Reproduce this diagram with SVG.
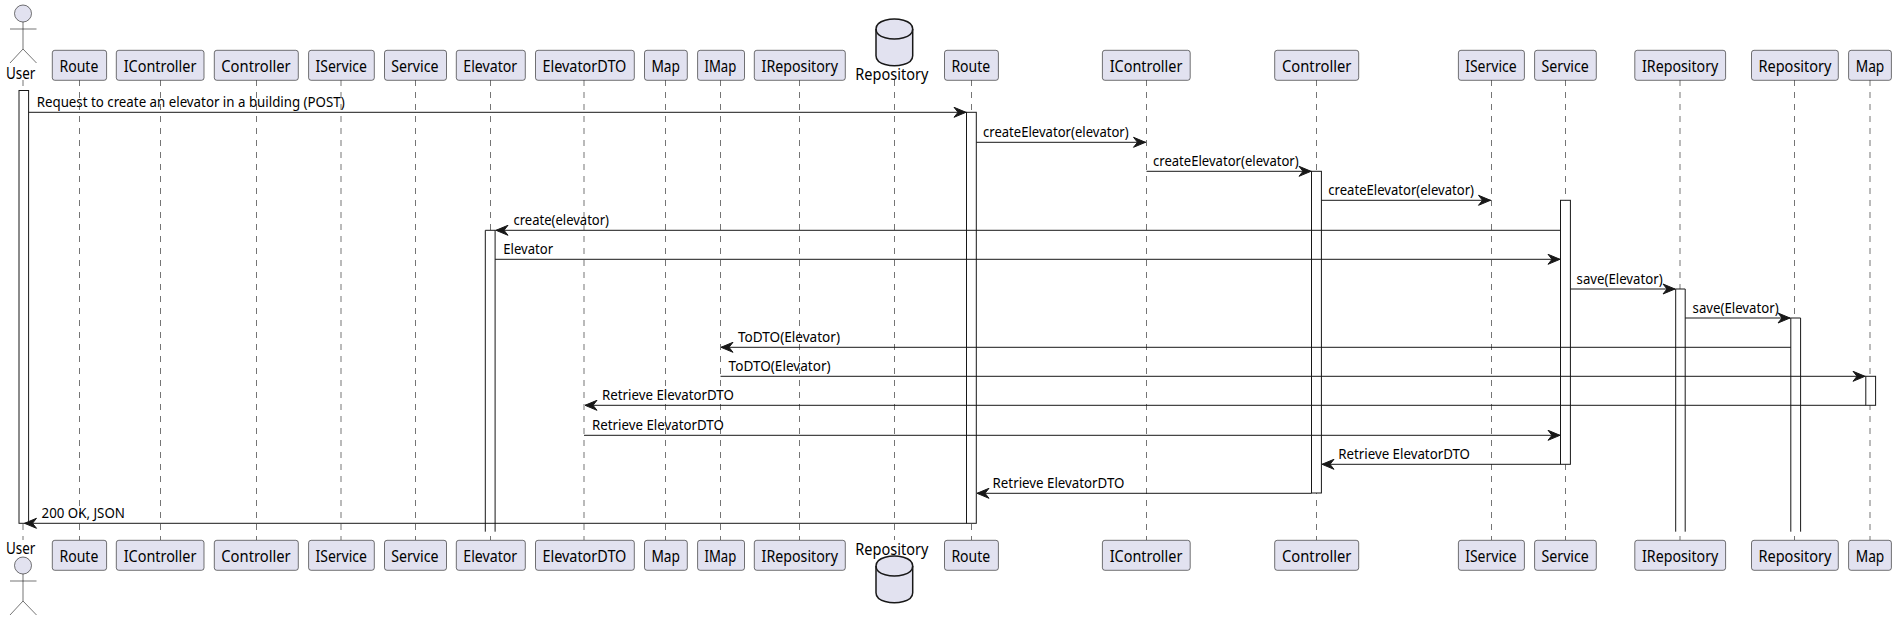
<svg xmlns="http://www.w3.org/2000/svg" width="1896" height="621" viewBox="0 0 1896 621">
<style>
text{font-family:"Noto Sans","Liberation Sans",sans-serif;font-size:14.5px;fill:#000}
.n{font-size:15.4px}
.p{fill:#E2E2F0;stroke:#181818;stroke-width:.6}
.a{fill:#E2E2F0;stroke:#181818;stroke-width:.6}
.al{fill:none;stroke:#181818;stroke-width:.6}
.db{fill:#E2E2F0;stroke:#181818;stroke-width:1.5}
.ll{stroke:#181818;stroke-width:.6;stroke-dasharray:6 6;fill:none}
.b{fill:#fff;stroke:#181818;stroke-width:1}
.m{stroke:#181818;stroke-width:1;fill:none}
.h{fill:#181818;stroke:#181818;stroke-width:1}
</style>
<defs>
<g id="actor"><circle cx="23" cy="13.5" r="8.5" class="a"/><path class="al" d="M23 22V49M10 29H36.5M10 63L23 49L36.5 63"/></g>
<path id="ar" class="h" d="M0 0L-12 -5L-8 0L-12 5Z"/>
<path id="al" class="h" d="M0 0L12 -5L8 0L12 5Z"/>
</defs>
<g id="lifelines">
<path class="ll" d="M23 80V540M79.5 80V540M160.5 80V540M256.5 80V540M341 80V540M415.5 80V540M490.5 80V540M584 80V540M665.5 80V540M720.5 80V540M799.5 80V540M894.5 80V540M971.5 80V540M1146.5 80V540M1316.5 80V540M1491.5 80V540M1565.5 80V540M1680 80V540M1794.5 80V540M1870 80V540"/>
</g>
<g id="activations">
<rect class="b" x="19" y="90.5" width="9.6" height="432.8"/>
<rect class="b" x="966.5" y="112.3" width="9.8" height="411"/>
<rect class="b" x="1311.5" y="171.3" width="9.9" height="321.7"/>
<rect class="b" x="1560.5" y="200.3" width="9.9" height="264"/>
<path class="b" d="M485.3 531.7V230.3H495.1V531.7"/>
<path class="b" d="M1675.7 531.7V289H1685.2V531.7"/>
<path class="b" d="M1790.8 531.7V318H1800.6V531.7"/>
<rect class="b" x="1865.8" y="376.3" width="9.8" height="29"/>
</g>
<g id="connectors">
<path class="m" d="M28.6 112.3H966.5"/><use href="#ar" x="966" y="112.3"/>
<path class="m" d="M976.3 142.3H1146"/><use href="#ar" x="1145.5" y="142.3"/>
<path class="m" d="M1146.5 171.3H1311.5"/><use href="#ar" x="1311" y="171.3"/>
<path class="m" d="M1321.4 200.3H1491"/><use href="#ar" x="1490.5" y="200.3"/>
<path class="m" d="M495.1 230.3H1560.5"/><use href="#al" x="496" y="230.3"/>
<path class="m" d="M495.1 259.3H1560.5"/><use href="#ar" x="1560" y="259.3"/>
<path class="m" d="M1570.4 289H1675.7"/><use href="#ar" x="1675" y="289"/>
<path class="m" d="M1685.2 318H1790.8"/><use href="#ar" x="1790" y="318"/>
<path class="m" d="M721 347.3H1790.8"/><use href="#al" x="721" y="347.3"/>
<path class="m" d="M720.5 376.3H1865.8"/><use href="#ar" x="1865" y="376.3"/>
<path class="m" d="M585 405.3H1865.8"/><use href="#al" x="585" y="405.3"/>
<path class="m" d="M584 435.3H1560.5"/><use href="#ar" x="1560" y="435.3"/>
<path class="m" d="M1322 464.3H1560.5"/><use href="#al" x="1322" y="464.3"/>
<path class="m" d="M977 493.3H1311.5"/><use href="#al" x="977" y="493.3"/>
<path class="m" d="M29 523.3H966.5"/><use href="#al" x="24.5" y="523.3"/>
</g>
<g id="labels">
<text x="36.7" y="107" textLength="308" lengthAdjust="spacingAndGlyphs">Request to create an elevator in a building (POST)</text>
<text x="983" y="137" textLength="145.7" lengthAdjust="spacingAndGlyphs">createElevator(elevator)</text>
<text x="1153" y="166" textLength="145.7" lengthAdjust="spacingAndGlyphs">createElevator(elevator)</text>
<text x="1328.3" y="195" textLength="145.7" lengthAdjust="spacingAndGlyphs">createElevator(elevator)</text>
<text x="513.5" y="225" textLength="95.5" lengthAdjust="spacingAndGlyphs">create(elevator)</text>
<text x="503.3" y="254" textLength="49.8" lengthAdjust="spacingAndGlyphs">Elevator</text>
<text x="1576.6" y="284" textLength="86" lengthAdjust="spacingAndGlyphs">save(Elevator)</text>
<text x="1692.6" y="313" textLength="86" lengthAdjust="spacingAndGlyphs">save(Elevator)</text>
<text x="738" y="342" textLength="102" lengthAdjust="spacingAndGlyphs">ToDTO(Elevator)</text>
<text x="728.6" y="371" textLength="102" lengthAdjust="spacingAndGlyphs">ToDTO(Elevator)</text>
<text x="602" y="400" textLength="131.8" lengthAdjust="spacingAndGlyphs">Retrieve ElevatorDTO</text>
<text x="592" y="430" textLength="131.8" lengthAdjust="spacingAndGlyphs">Retrieve ElevatorDTO</text>
<text x="1338.2" y="459" textLength="131.8" lengthAdjust="spacingAndGlyphs">Retrieve ElevatorDTO</text>
<text x="992.6" y="488" textLength="131.8" lengthAdjust="spacingAndGlyphs">Retrieve ElevatorDTO</text>
<text x="41.6" y="518" textLength="83.3" lengthAdjust="spacingAndGlyphs">200 OK, JSON</text>
</g>
<g id="user-top"><use href="#actor"/><text class="n" x="6" y="78.5" textLength="29.4" lengthAdjust="spacingAndGlyphs">User</text></g>
<g id="user-bottom"><use href="#actor" y="552"/><text class="n" x="6" y="554" textLength="29.4" lengthAdjust="spacingAndGlyphs">User</text></g>
<g id="repo-db-top"><path class="db" d="M876 29C876 19 894.3 19 894.3 19C894.3 19 912.7 19 912.7 29V55.7C912.7 65.7 894.3 65.7 894.3 65.7C894.3 65.7 876 65.7 876 55.7Z"/><path class="db" style="fill:none" d="M876 29C876 39 894.3 39 894.3 39C894.3 39 912.7 39 912.7 29"/><text class="n" x="855.3" y="79.5" textLength="73" lengthAdjust="spacingAndGlyphs">Repository</text></g>
<g id="repo-db-bottom"><text class="n" x="855.3" y="554.5" textLength="73" lengthAdjust="spacingAndGlyphs">Repository</text><path class="db" d="M876 566C876 556 894.3 556 894.3 556C894.3 556 912.7 556 912.7 566V592.7C912.7 602.7 894.3 602.7 894.3 602.7C894.3 602.7 876 602.7 876 592.7Z"/><path class="db" style="fill:none" d="M876 566C876 576 894.3 576 894.3 576C894.3 576 912.7 576 912.7 566"/></g>
<g id="p-route1"><rect class="p" x="52.3" y="50.3" width="54.3" height="30" rx="2.5"/><rect class="p" x="52.3" y="540.3" width="54.3" height="30" rx="2.5"/><text class="n" x="59.5" y="71.5" textLength="38.8" lengthAdjust="spacingAndGlyphs">Route</text><text class="n" x="59.5" y="561.5" textLength="38.8" lengthAdjust="spacingAndGlyphs">Route</text></g>
<g id="p-icontroller1"><rect class="p" x="116.3" y="50.3" width="87.7" height="30" rx="2.5"/><rect class="p" x="116.3" y="540.3" width="87.7" height="30" rx="2.5"/><text class="n" x="123.7" y="71.5" textLength="72.7" lengthAdjust="spacingAndGlyphs">IController</text><text class="n" x="123.7" y="561.5" textLength="72.7" lengthAdjust="spacingAndGlyphs">IController</text></g>
<g id="p-controller1"><rect class="p" x="214.3" y="50.3" width="84" height="30" rx="2.5"/><rect class="p" x="214.3" y="540.3" width="84" height="30" rx="2.5"/><text class="n" x="221.3" y="71.5" textLength="69.4" lengthAdjust="spacingAndGlyphs">Controller</text><text class="n" x="221.3" y="561.5" textLength="69.4" lengthAdjust="spacingAndGlyphs">Controller</text></g>
<g id="p-iservice1"><rect class="p" x="308.6" y="50.3" width="65.7" height="30" rx="2.5"/><rect class="p" x="308.6" y="540.3" width="65.7" height="30" rx="2.5"/><text class="n" x="315.5" y="71.5" textLength="51.4" lengthAdjust="spacingAndGlyphs">IService</text><text class="n" x="315.5" y="561.5" textLength="51.4" lengthAdjust="spacingAndGlyphs">IService</text></g>
<g id="p-service1"><rect class="p" x="384.5" y="50.3" width="62" height="30" rx="2.5"/><rect class="p" x="384.5" y="540.3" width="62" height="30" rx="2.5"/><text class="n" x="391.2" y="71.5" textLength="47.3" lengthAdjust="spacingAndGlyphs">Service</text><text class="n" x="391.2" y="561.5" textLength="47.3" lengthAdjust="spacingAndGlyphs">Service</text></g>
<g id="p-elevator"><rect class="p" x="456.3" y="50.3" width="69" height="30" rx="2.5"/><rect class="p" x="456.3" y="540.3" width="69" height="30" rx="2.5"/><text class="n" x="463.3" y="71.5" textLength="53.9" lengthAdjust="spacingAndGlyphs">Elevator</text><text class="n" x="463.3" y="561.5" textLength="53.9" lengthAdjust="spacingAndGlyphs">Elevator</text></g>
<g id="p-elevatordto"><rect class="p" x="535.5" y="50.3" width="98.8" height="30" rx="2.5"/><rect class="p" x="535.5" y="540.3" width="98.8" height="30" rx="2.5"/><text class="n" x="542.4" y="71.5" textLength="84" lengthAdjust="spacingAndGlyphs">ElevatorDTO</text><text class="n" x="542.4" y="561.5" textLength="84" lengthAdjust="spacingAndGlyphs">ElevatorDTO</text></g>
<g id="p-map1"><rect class="p" x="644.5" y="50.3" width="42.8" height="30" rx="2.5"/><rect class="p" x="644.5" y="540.3" width="42.8" height="30" rx="2.5"/><text class="n" x="651.4" y="71.5" textLength="28.6" lengthAdjust="spacingAndGlyphs">Map</text><text class="n" x="651.4" y="561.5" textLength="28.6" lengthAdjust="spacingAndGlyphs">Map</text></g>
<g id="p-imap"><rect class="p" x="697.6" y="50.3" width="46.9" height="30" rx="2.5"/><rect class="p" x="697.6" y="540.3" width="46.9" height="30" rx="2.5"/><text class="n" x="704.5" y="71.5" textLength="31.8" lengthAdjust="spacingAndGlyphs">IMap</text><text class="n" x="704.5" y="561.5" textLength="31.8" lengthAdjust="spacingAndGlyphs">IMap</text></g>
<g id="p-irepository1"><rect class="p" x="754.3" y="50.3" width="91" height="30" rx="2.5"/><rect class="p" x="754.3" y="540.3" width="91" height="30" rx="2.5"/><text class="n" x="761.6" y="71.5" textLength="76.3" lengthAdjust="spacingAndGlyphs">IRepository</text><text class="n" x="761.6" y="561.5" textLength="76.3" lengthAdjust="spacingAndGlyphs">IRepository</text></g>
<g id="p-route2"><rect class="p" x="944.5" y="50.3" width="53.9" height="30" rx="2.5"/><rect class="p" x="944.5" y="540.3" width="53.9" height="30" rx="2.5"/><text class="n" x="951.4" y="71.5" textLength="38.8" lengthAdjust="spacingAndGlyphs">Route</text><text class="n" x="951.4" y="561.5" textLength="38.8" lengthAdjust="spacingAndGlyphs">Route</text></g>
<g id="p-icontroller2"><rect class="p" x="1102.4" y="50.3" width="87.8" height="30" rx="2.5"/><rect class="p" x="1102.4" y="540.3" width="87.8" height="30" rx="2.5"/><text class="n" x="1109.7" y="71.5" textLength="72.7" lengthAdjust="spacingAndGlyphs">IController</text><text class="n" x="1109.7" y="561.5" textLength="72.7" lengthAdjust="spacingAndGlyphs">IController</text></g>
<g id="p-controller2"><rect class="p" x="1274.7" y="50.3" width="84" height="30" rx="2.5"/><rect class="p" x="1274.7" y="540.3" width="84" height="30" rx="2.5"/><text class="n" x="1282" y="71.5" textLength="69.4" lengthAdjust="spacingAndGlyphs">Controller</text><text class="n" x="1282" y="561.5" textLength="69.4" lengthAdjust="spacingAndGlyphs">Controller</text></g>
<g id="p-iservice2"><rect class="p" x="1458.4" y="50.3" width="66" height="30" rx="2.5"/><rect class="p" x="1458.4" y="540.3" width="66" height="30" rx="2.5"/><text class="n" x="1465.2" y="71.5" textLength="51.4" lengthAdjust="spacingAndGlyphs">IService</text><text class="n" x="1465.2" y="561.5" textLength="51.4" lengthAdjust="spacingAndGlyphs">IService</text></g>
<g id="p-service2"><rect class="p" x="1534.6" y="50.3" width="61.7" height="30" rx="2.5"/><rect class="p" x="1534.6" y="540.3" width="61.7" height="30" rx="2.5"/><text class="n" x="1541.5" y="71.5" textLength="47.3" lengthAdjust="spacingAndGlyphs">Service</text><text class="n" x="1541.5" y="561.5" textLength="47.3" lengthAdjust="spacingAndGlyphs">Service</text></g>
<g id="p-irepository2"><rect class="p" x="1634.8" y="50.3" width="90.8" height="30" rx="2.5"/><rect class="p" x="1634.8" y="540.3" width="90.8" height="30" rx="2.5"/><text class="n" x="1642" y="71.5" textLength="76.3" lengthAdjust="spacingAndGlyphs">IRepository</text><text class="n" x="1642" y="561.5" textLength="76.3" lengthAdjust="spacingAndGlyphs">IRepository</text></g>
<g id="p-repository"><rect class="p" x="1751.5" y="50.3" width="86.8" height="30" rx="2.5"/><rect class="p" x="1751.5" y="540.3" width="86.8" height="30" rx="2.5"/><text class="n" x="1758.5" y="71.5" textLength="73" lengthAdjust="spacingAndGlyphs">Repository</text><text class="n" x="1758.5" y="561.5" textLength="73" lengthAdjust="spacingAndGlyphs">Repository</text></g>
<g id="p-map2"><rect class="p" x="1848.6" y="50.3" width="42.8" height="30" rx="2.5"/><rect class="p" x="1848.6" y="540.3" width="42.8" height="30" rx="2.5"/><text class="n" x="1855.7" y="71.5" textLength="28.6" lengthAdjust="spacingAndGlyphs">Map</text><text class="n" x="1855.7" y="561.5" textLength="28.6" lengthAdjust="spacingAndGlyphs">Map</text></g>
</svg>
